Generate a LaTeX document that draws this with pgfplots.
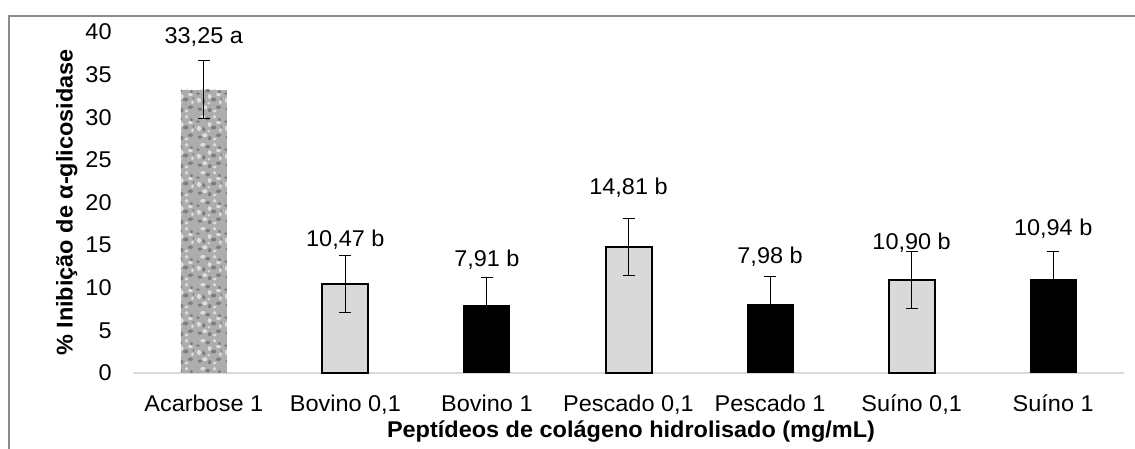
\documentclass[border=0pt]{standalone}
\usepackage{fontspec}
\setmainfont{Liberation Sans}[FakeStretch=1.03]
\usepackage{pgfplots}
\pgfplotsset{compat=1.18}
\usetikzlibrary{patterns.meta}
\definecolor{lightbar}{HTML}{D9D9D9}
\definecolor{axisgray}{HTML}{D9D9D9}
\definecolor{framegray}{HTML}{8C8C8C}
\definecolor{texgray}{HTML}{ADADAD}
\definecolor{texdark}{HTML}{7E7E7E}
\definecolor{texlight}{HTML}{DEDEDE}
\newcommand{\blob}[4]{\pgfpathellipse{\pgfpoint{#1pt}{#2pt}}{\pgfpoint{#3pt}{0pt}}{\pgfpoint{0pt}{#4pt}}}
\pgfdeclarepattern{
  name=speckle,
  type=colored,
  bottom left={\pgfpoint{0pt}{0pt}},
  top right={\pgfpoint{14pt}{14pt}},
  tile size={\pgfpoint{14pt}{14pt}},
  code={
    \pgfsetfillcolor{texdark}
    \blob{2}{2}{1.2}{0.8}\blob{7}{1.5}{0.9}{1.1}\blob{11.5}{3}{1.3}{0.9}
    \blob{4}{6}{0.8}{1.2}\blob{9}{7}{1.4}{1.0}\blob{1}{10}{1.0}{0.7}
    \blob{6}{11.5}{1.2}{0.9}\blob{12}{11}{0.8}{1.0}\blob{13}{7.5}{0.6}{0.6}
    \pgfusepath{fill}
    \pgfsetfillcolor{texlight}
    \blob{4.5}{3}{1.3}{1.0}\blob{9.5}{1}{1.0}{0.8}\blob{1.5}{6.5}{1.1}{1.3}
    \blob{7}{8.5}{1.0}{1.2}\blob{11.5}{9.5}{1.2}{0.8}\blob{3.5}{12.5}{1.3}{0.9}
    \blob{9.5}{12.5}{0.9}{1.0}\blob{12.5}{5.5}{0.8}{1.0}\blob{6.5}{5}{0.7}{0.7}
    \pgfusepath{fill}
  }
}
\newcommand{\fs}{\fontsize{11.4}{13}\selectfont}
\begin{document}
\begin{tikzpicture}[font=\fs]
\path[use as bounding box] (0,0) rectangle (567.5pt,224.5pt);
\draw[framegray, line width=0.7pt] (4.5pt,0) -- (4.5pt,216.5pt) -- (567.5pt,216.5pt);
\begin{axis}[
  at={(66.5pt,38pt)}, anchor=south west,
  scale only axis, width=495.5pt, height=170.5pt,
  xmin=-0.5, xmax=6.5, ymin=0, ymax=40,
  xtick={0,1,2,3,4,5,6},
  xticklabels={{Acarbose 1},{Bovino 0,1},{Bovino 1},{Pescado 0,1},{Pescado 1},{Suíno 0,1},{Suíno 1}},
  ytick={0,5,...,40},
  axis x line*=bottom, axis y line*=left,
  x axis line style={axisgray, line width=1pt, -},
  y axis line style={draw=none},
  major tick length=0pt,
  tick style={draw=none},
  tick label style={font=\fs, black},
  yticklabel style={inner sep=0pt, xshift=-10.5pt},
  xticklabel style={anchor=base, inner sep=0pt, yshift=-19.35pt},
  /pgf/number format/assume math mode=true,
  clip=false,
  ybar, bar width=23pt, bar shift=0pt,
]
% Acarbose textured bar
\addplot[fill=texgray, draw=none] coordinates {(0,33.25)};
\addplot[draw=none, pattern=speckle] coordinates {(0,33.25)};
\addplot[draw=none, fill=none, forget plot,
  error bars/.cd, y dir=both, y explicit,
  error bar style={draw=black, line width=0.5pt},
  error mark options={draw=black, rotate=90, mark size=3pt, line width=0.5pt}]
  coordinates {(0,33.25) +- (0,3.35)};
% light gray bars
\addplot[fill=lightbar, draw=black, line width=1pt,
  error bars/.cd, y dir=both, y explicit,
  error bar style={draw=black, line width=0.5pt},
  error mark options={draw=black, rotate=90, mark size=3pt, line width=0.5pt}]
  coordinates {(1,10.47) +- (0,3.35) (3,14.81) +- (0,3.35) (5,10.90) +- (0,3.35)};
% black bars
\addplot[fill=black, draw=black, line width=0.5pt,
  error bars/.cd, y dir=both, y explicit,
  error bar style={draw=black, line width=0.5pt},
  error mark options={draw=black, rotate=90, mark size=3pt, line width=0.5pt}]
  coordinates {(2,7.91) +- (0,3.35) (4,7.98) +- (0,3.35) (6,10.94) +- (0,3.35)};
\node[anchor=base, font=\fs] at (axis cs:0,38.7) {33,25 a};
\node[anchor=base, font=\fs] at (axis cs:1,14.8) {10,47 b};
\node[anchor=base, font=\fs] at (axis cs:2,12.5) {7,91 b};
\node[anchor=base, font=\fs] at (axis cs:3,20.9) {14,81 b};
\node[anchor=base, font=\fs] at (axis cs:4,12.8) {7,98 b};
\node[anchor=base, font=\fs] at (axis cs:5,14.5) {10,90 b};
\node[anchor=base, font=\fs] at (axis cs:6,16.1) {10,94 b};
\end{axis}
\node[anchor=base, font=\fs\bfseries] at (315.5pt,5.5pt) {Peptídeos de colágeno hidrolisado (mg/mL)};
\node[anchor=base, rotate=90, font=\fs\bfseries] at (36.25pt,123.25pt) {\% Inibição de α-glicosidase};
\end{tikzpicture}
\end{document}
